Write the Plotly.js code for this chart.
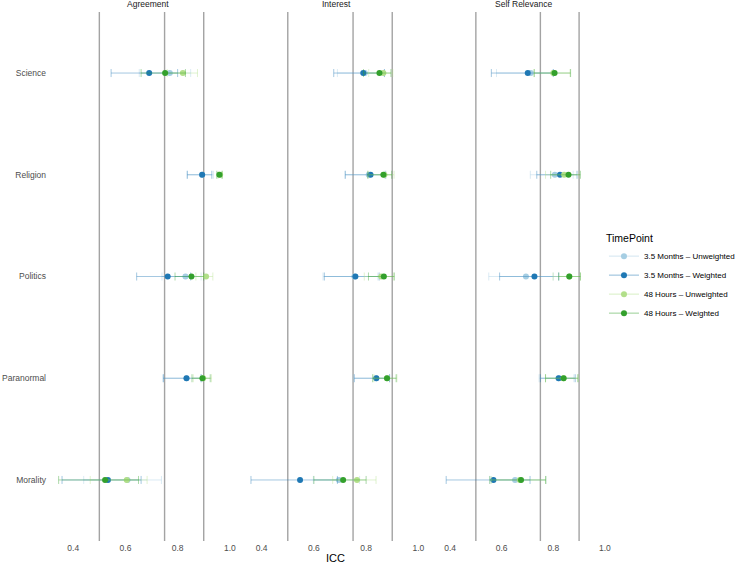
<!DOCTYPE html>
<html>
<head>
<meta charset="utf-8">
<script src="https://cdn.plot.ly/plotly-3.0.1.min.js"></script>
<style>html,body{margin:0;padding:0;background:#fff}#chart{width:742px;height:565px}</style>
</head>
<body>
<div id="chart"></div>
<script>
// ---- data (order within each array: Agreement[5], Interest[5], Self Relevance[5]) ----
const categories = ['Science', 'Religion', 'Politics', 'Paranormal', 'Morality'];
const facets = ['Agreement', 'Interest', 'Self Relevance'];
const seriesNames = ['3.5 Months \u2013 Unweighted', '3.5 Months \u2013 Weighted', '48 Hours \u2013 Unweighted', '48 Hours \u2013 Weighted'];
const seriesColors = ['#A6CEE3', '#1F78B4', '#B2DF8A', '#33A02C'];
const refLines = [0.5, 0.75, 0.9];
const xTicks = [0.4, 0.6, 0.8, 1.0];

// 3.5 Months - Unweighted
const m35u_est = [0.770, 0.894, 0.830, 0.834, 0.608,  0.795, 0.810, 0.755, 0.839, 0.696,  0.713, 0.806, 0.694, 0.820, 0.652];
const m35u_lo  = [0.653, 0.837, 0.740, 0.745, 0.440,  0.690, 0.720, 0.635, 0.750, 0.598,  0.580, 0.711, 0.550, 0.745, 0.554];
const m35u_hi  = [0.850, 0.937, 0.890, 0.890, 0.738,  0.870, 0.870, 0.845, 0.890, 0.775,  0.800, 0.877, 0.800, 0.880, 0.771];
// 3.5 Months - Weighted
const m35w_est = [0.691, 0.894, 0.762, 0.834, 0.533,  0.789, 0.817, 0.759, 0.839, 0.547,  0.701, 0.826, 0.727, 0.821, 0.568];
const m35w_lo  = [0.545, 0.837, 0.643, 0.745, 0.357,  0.676, 0.720, 0.640, 0.755, 0.359,  0.560, 0.736, 0.592, 0.750, 0.385];
const m35w_hi  = [0.800, 0.931, 0.850, 0.890, 0.660,  0.870, 0.875, 0.850, 0.890, 0.690,  0.800, 0.892, 0.821, 0.885, 0.710];
// 48 Hours - Unweighted
const h48u_est = [0.820, 0.963, 0.909, 0.898, 0.605,  0.866, 0.870, 0.858, 0.880, 0.765,  0.800, 0.842, 0.862, 0.840, 0.670];
const h48u_lo  = [0.760, 0.955, 0.870, 0.860, 0.465,  0.810, 0.810, 0.793, 0.830, 0.672,  0.726, 0.770, 0.799, 0.770, 0.560];
const h48u_hi  = [0.876, 0.972, 0.935, 0.930, 0.683,  0.902, 0.907, 0.905, 0.918, 0.838,  0.865, 0.900, 0.905, 0.897, 0.770];
// 48 Hours - Weighted
const h48w_est = [0.752, 0.960, 0.853, 0.895, 0.522,  0.851, 0.866, 0.868, 0.880, 0.712,  0.805, 0.859, 0.862, 0.840, 0.675];
const h48w_lo  = [0.660, 0.950, 0.790, 0.855, 0.344,  0.790, 0.806, 0.809, 0.825, 0.600,  0.726, 0.790, 0.821, 0.770, 0.554];
const h48w_hi  = [0.830, 0.970, 0.900, 0.925, 0.650,  0.895, 0.898, 0.908, 0.915, 0.800,  0.867, 0.905, 0.905, 0.895, 0.771];

const seriesData = [
  [m35u_est, m35u_lo, m35u_hi],
  [m35w_est, m35w_lo, m35w_hi],
  [h48u_est, h48u_lo, h48u_hi],
  [h48w_est, h48w_lo, h48w_hi]
];

function rgba(hex, a) {
  const n = parseInt(hex.slice(1), 16);
  return 'rgba(' + ((n >> 16) & 255) + ',' + ((n >> 8) & 255) + ',' + (n & 255) + ',' + a + ')';
}

const axisIds = ['x', 'x2', 'x3'];
const traces = [];
seriesData.forEach((sd, s) => {
  const [est, lo, hi] = sd;
  facets.forEach((f, fi) => {
    const xs = [], ys = [], ep = [], em = [];
    categories.forEach((c, ci) => {
      const k = fi * categories.length + ci;
      xs.push(est[k], null);
      ys.push(c, c);
      ep.push(hi[k] - est[k], null);
      em.push(est[k] - lo[k], null);
    });
    traces.push({
      type: 'scatter',
      mode: 'lines+markers',
      name: seriesNames[s],
      legendgroup: seriesNames[s],
      showlegend: fi === 0,
      xaxis: axisIds[fi],
      yaxis: 'y',
      x: xs,
      y: ys,
      connectgaps: false,
      line: {color: rgba(seriesColors[s], 0.5), width: 1},
      marker: {color: seriesColors[s], size: 6},
      error_x: {
        type: 'data', symmetric: false, array: ep, arrayminus: em,
        color: rgba(seriesColors[s], 0.45), thickness: 0.9, width: 4
      },
      hoverinfo: 'skip'
    });
  });
});

const fontFam = 'Liberation Sans, Arial, Helvetica, sans-serif';
const xRange = [0.330, 1.043];
const domains = [[0, 0.3316], [0.3358, 0.6677], [0.6720, 1]];

function xAxis(i) {
  return {
    domain: domains[i], range: xRange, anchor: 'y',
    tickvals: xTicks, ticktext: xTicks.map(v => v.toFixed(1)),
    showgrid: false, zeroline: false, showline: false, ticks: '',
    tickfont: {family: fontFam, size: 8.5, color: '#4D4D4D'},
    fixedrange: true
  };
}

const shapes = [];
axisIds.forEach(ax => {
  refLines.forEach(v => {
    shapes.push({type: 'line', xref: ax, yref: 'paper', x0: v, x1: v, y0: 0, y1: 1,
      line: {color: '#A3A3A3', width: 1.4}, layer: 'below'});
  });
});

const annotations = facets.map((f, i) => ({
  text: f, xref: 'paper', yref: 'paper',
  x: (domains[i][0] + domains[i][1]) / 2, y: 1.016,
  xanchor: 'center', yanchor: 'middle', showarrow: false,
  font: {family: fontFam, size: 8.5, color: '#1A1A1A'}
}));
annotations.push({
  text: 'ICC', xref: 'paper', yref: 'paper', x: 0.5, y: -0.032,
  xanchor: 'center', yanchor: 'middle', showarrow: false,
  font: {family: fontFam, size: 11, color: '#000000'}
});

const layout = {
  width: 742, height: 565,
  margin: {l: 55, r: 126, t: 12, b: 24, pad: 0, autoexpand: false},
  paper_bgcolor: '#ffffff', plot_bgcolor: '#ffffff',
  font: {family: fontFam},
  showlegend: true,
  legend: {
    xref: 'container', yref: 'container',
    x: 0.814, xanchor: 'left', y: 0.5965, yanchor: 'top',
    title: {text: 'TimePoint', font: {family: fontFam, size: 10.5, color: '#000000'}},
    font: {family: fontFam, size: 8, color: '#000000'},
    tracegroupgap: 0, bgcolor: 'rgba(0,0,0,0)'
  },
  xaxis: xAxis(0), xaxis2: xAxis(1), xaxis3: xAxis(2),
  yaxis: {
    type: 'category', categoryorder: 'array', categoryarray: categories,
    range: [4.6, -0.6], autorange: false, anchor: 'x',
    showgrid: false, zeroline: false, showline: false, ticks: '',
    ticklabelstandoff: 8,
    tickfont: {family: fontFam, size: 8.5, color: '#4D4D4D'},
    fixedrange: true
  },
  shapes: shapes,
  annotations: annotations
};

Plotly.newPlot('chart', traces, layout, {displayModeBar: false, staticPlot: true});
</script>
</body>
</html>
